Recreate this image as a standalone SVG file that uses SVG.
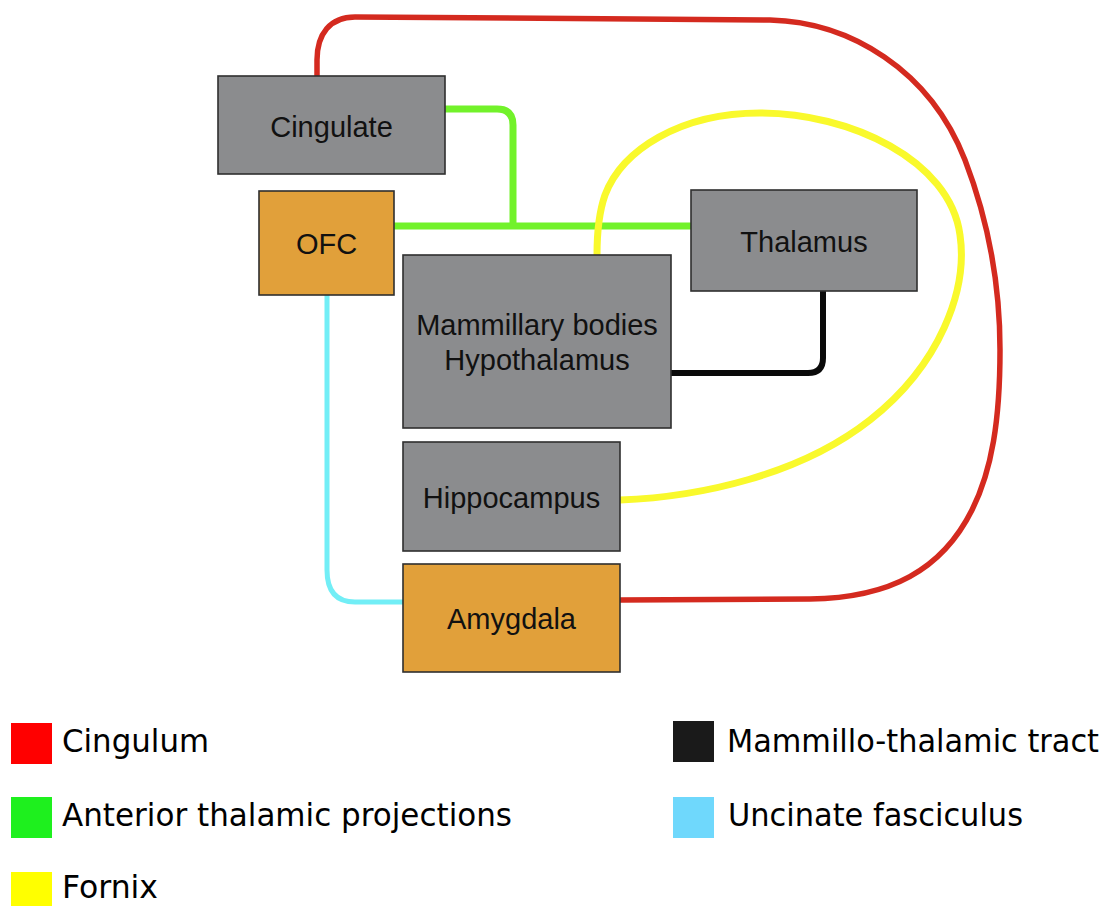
<svg xmlns="http://www.w3.org/2000/svg" width="1117" height="906" viewBox="0 0 1117 906">
  <style>
    .box { stroke: #2f2f2f; stroke-width: 1.6; }
    .gray { fill: #8b8c8e; }
    .orange { fill: #e1a03a; }
    .label { font-family: "Liberation Sans", Arial, sans-serif; font-size: 29px; fill: #111; text-anchor: middle; }
    .tract { fill: none; stroke-linecap: butt; stroke-linejoin: round; }
    .legend { font-family: "DejaVu Sans", Verdana, sans-serif; font-size: 32px; fill: #000; }
  </style>
  <rect width="1117" height="906" fill="#ffffff"/>

  <!-- fibre tracts -->
  <g id="connectors">
    <!-- cingulum: cingulate over the top and round to the amygdala -->
    <path class="tract" stroke="#d42a1f" stroke-width="5.5"
          d="M317,76 V60 C317,34 330,17 355,17 L770,20 C850,22 930,70 965,160 C990,225 1000,290 1000,350 C1000,420 992,470 972,510 C942,570 890,598 810,599 L620,600"/>
    <!-- anterior thalamic projections -->
    <path class="tract" stroke="#72f22a" stroke-width="7"
          d="M445,109 H497 Q513,109 513,125 V226"/>
    <path class="tract" stroke="#72f22a" stroke-width="7"
          d="M394,226 H691"/>
    <!-- fornix: hippocampus looping over the thalamus to the mammillary bodies -->
    <path class="tract" stroke="#f9f92c" stroke-width="7"
          d="M620,500 C700,497 800,475 870,420 C940,365 968,290 960,235 C950,160 850,113 760,113 C680,113 622,150 605,195 C598,215 597,240 597,255"/>
    <!-- mammillo-thalamic tract -->
    <path class="tract" stroke="#0a0a0a" stroke-width="6"
          d="M671,373 H808 Q823,373 823,358 V291"/>
    <!-- uncinate fasciculus -->
    <path class="tract" stroke="#72eef6" stroke-width="5"
          d="M327,295 V570 Q327,602 355,602 H403"/>
  </g>

  <g id="cingulate">
    <rect class="box gray" x="218" y="76" width="227" height="98"/>
    <text class="label" x="331.5" y="137">Cingulate</text>
  </g>
  <g id="ofc">
    <rect class="box orange" x="259" y="191" width="135" height="104"/>
    <text class="label" x="326.5" y="254">OFC</text>
  </g>
  <g id="thalamus">
    <rect class="box gray" x="691" y="190" width="226" height="101"/>
    <text class="label" x="804" y="252">Thalamus</text>
  </g>
  <g id="mammillary">
    <rect class="box gray" x="403" y="255" width="268" height="173"/>
    <text class="label" x="537" y="335">Mammillary bodies</text>
    <text class="label" x="537" y="370">Hypothalamus</text>
  </g>
  <g id="hippocampus">
    <rect class="box gray" x="403" y="442" width="217" height="109"/>
    <text class="label" x="511.5" y="508">Hippocampus</text>
  </g>
  <g id="amygdala">
    <rect class="box orange" x="403" y="564" width="217" height="108"/>
    <text class="label" x="511.5" y="629">Amygdala</text>
  </g>

  <g id="legend">
    <rect x="11" y="723" width="41" height="41" fill="#ff0000"/>
    <text class="legend" x="62" y="752" textLength="147" lengthAdjust="spacingAndGlyphs">Cingulum</text>
    <rect x="11" y="797" width="41" height="41" fill="#1ef01e"/>
    <text class="legend" x="62" y="826" textLength="450" lengthAdjust="spacingAndGlyphs">Anterior thalamic projections</text>
    <rect x="11" y="872" width="41" height="41" fill="#ffff00"/>
    <text class="legend" x="62" y="898" textLength="96" lengthAdjust="spacingAndGlyphs">Fornix</text>
    <rect x="673" y="721" width="41" height="41" fill="#1a1a1a"/>
    <text class="legend" x="727" y="752" textLength="372" lengthAdjust="spacingAndGlyphs">Mammillo-thalamic tract</text>
    <rect x="673" y="797" width="41" height="41" fill="#6fd8fc"/>
    <text class="legend" x="728" y="826" textLength="295" lengthAdjust="spacingAndGlyphs">Uncinate fasciculus</text>
  </g>
</svg>
